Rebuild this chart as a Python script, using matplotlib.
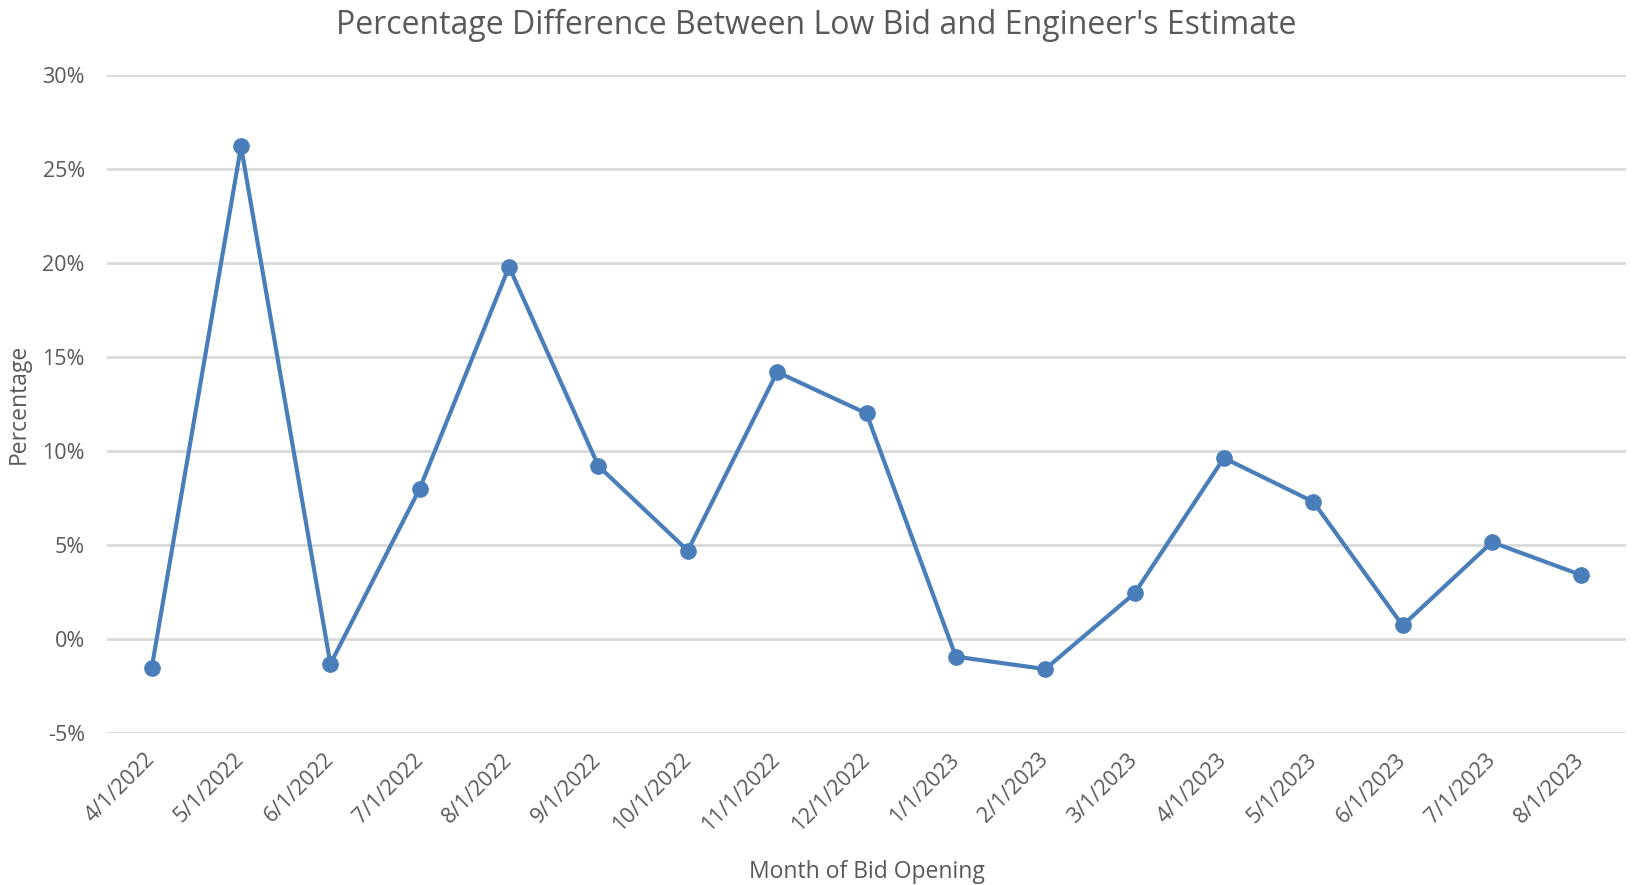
import matplotlib
matplotlib.use("Agg")
import matplotlib.pyplot as plt
from matplotlib.ticker import FuncFormatter

months = ["4/1/2022", "5/1/2022", "6/1/2022", "7/1/2022", "8/1/2022", "9/1/2022",
          "10/1/2022", "11/1/2022", "12/1/2022", "1/1/2023", "2/1/2023", "3/1/2023",
          "4/1/2023", "5/1/2023", "6/1/2023", "7/1/2023", "8/1/2023"]
pct_diff = [-1.55, 26.2, -1.33, 8.0, 19.8, 9.2, 4.7, 14.2, 12.0, -0.94, -1.6,
            2.43, 9.63, 7.3, 0.72, 5.15, 3.4]
y_ticks = [-5, 0, 5, 10, 15, 20, 25, 30]

plt.rcParams['font.family'] = ['Open Sans', 'DejaVu Sans']
text_col = "#595959"

W, H = 1633, 885
fig = plt.figure(figsize=(W / 100, H / 100), dpi=100)
L, R, T, B = 107, 1626, 75, 733
ax = fig.add_axes([L / W, 1 - B / H, (R - L) / W, (B - T) / H])

x = list(range(len(months)))
ax.plot(x, pct_diff, color="#4a7ebb", lw=3, marker="o", markersize=11,
        markeredgecolor="#4a7ebb", markerfacecolor="#4a7ebb", zorder=3)

ax.set_xlim(-0.5, len(months) - 0.5)
ax.set_ylim(-5, 30)
ax.set_yticks(y_ticks)
ax.yaxis.set_major_formatter(FuncFormatter(lambda v, p: f"{int(round(v))}%"))
ax.set_xticks(x)
ax.set_xticklabels(months, rotation=45, ha="right", va="center",
                   rotation_mode="anchor")

for s in ax.spines.values():
    s.set_visible(False)
ax.grid(axis="y", color="#d9d9d9", lw=2, zorder=0)
ax.set_axisbelow(True)
ax.tick_params(axis="both", length=0, labelsize=15.5, colors=text_col)
ax.tick_params(axis="x", pad=17)
ax.tick_params(axis="y", pad=16)

fig.text(0.5, 1 - 34 / H,
         "Percentage Difference Between Low Bid and Engineer's Estimate",
         fontsize=23, color=text_col, ha="center", va="baseline")

ax.set_xlabel("Month of Bid Opening", fontsize=16.5, color=text_col,
              va="center", ha="center")
ax.xaxis.set_label_coords(0.5, (B - 872) / (B - T))
ax.set_ylabel("Percentage", fontsize=16.5, color=text_col,
              va="center", ha="center")
ax.yaxis.set_label_coords((19 - L) / (R - L), 0.5)

fig.savefig("out.png", dpi=100, facecolor="white")
